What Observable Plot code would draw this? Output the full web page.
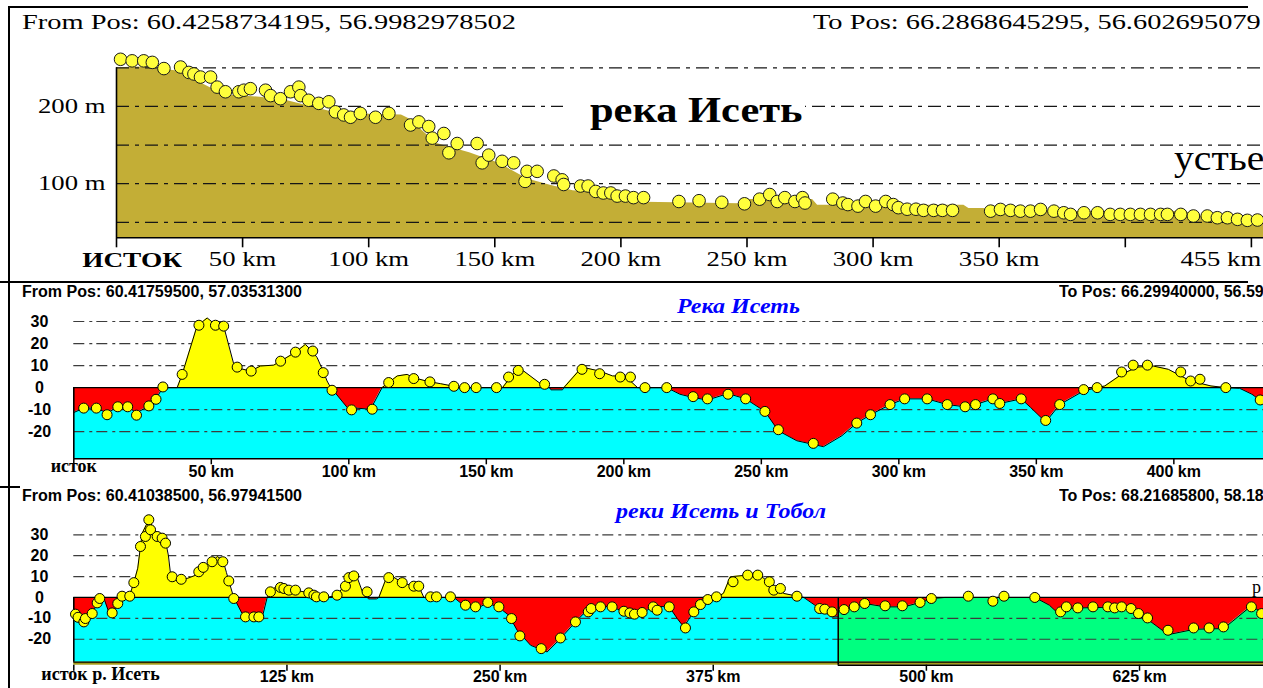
<!DOCTYPE html>
<html lang="ru">
<head>
<meta charset="utf-8">
<title>Профили реки Исеть</title>
<script src="https://cdn.jsdelivr.net/npm/d3@7"></script>
<script src="https://cdn.jsdelivr.net/npm/@observablehq/plot@0.6"></script>
<style>
  html, body { margin: 0; padding: 0; background: #fff; overflow: hidden; }
  #sheet { position: relative; width: 1263px; height: 688px; overflow: hidden; background: #fff; }
  #sheet svg { position: absolute; left: 0; }
  .lbl { position: absolute; white-space: nowrap; line-height: 1; transform-origin: 0 0; color: #000; }
  .serif { font-family: "Liberation Serif", "Times New Roman", serif; }
  .serif.bold { font-weight: bold; }
  .sans { font-family: "Liberation Sans", Arial, sans-serif; font-weight: bold; }
  .blue { font-family: "Liberation Serif", "Times New Roman", serif; font-weight: bold; font-style: italic; color: #0000ff; }
  .rule { position: absolute; background: #000; }
  .pad { position: absolute; background: #fff; }
</style>
</head>
<body>
<div id="sheet"></div>
<script>
// ================= data =================

// Profile 1 — река Исеть, absolute elevation: [km from source, metres]
const p1Ticks = [0, 50, 100, 150, 200, 250, 300, 350, 400, 450];
const p1TickLabels = ["ИСТОК", "50 km", "100 km", "150 km", "200 km", "250 km", "300 km", "350 km", "", "455 km"];
const p1Grid = [50, 100, 150, 200, 250];
const p1AxisValues = [100, 200];
const p1AxisLabels = ["100 m", "200 m"];
const p1Bed = [
  [0,250],[10,251],[16,249],[24,246],[38,223],[45,214.5],[57,212],[67,208],[77,200],[88,191],
  [113,189],[116,184],[127,152],[140,140],[152,126],[163,106],[172,98],[181,91],[192,88],[209,76],
  [247,74],[248,79.5],[276,79.5],[278,72],[336,72],[338,68],[344,68],[347,64],[424,64],
  [428,58],[454.8,56]
];
const p1Gauges = [
  [1.6,261],[6.2,259],[10.8,259],[14.2,257],[18.8,249],[25.4,251],[28.7,244],[30.7,242],[33.3,238],[37.3,238],
  [39.9,225],[43.2,219],[48.5,219],[50.5,221],[53.1,223],[59.1,221],[61.1,214],[65,210],[69,219],[72.3,225],
  [73,214],[76.2,208],[80.2,204],[84.2,206],[86.8,193],[90.1,189],[92.8,186],[96.7,191],[102.7,186],[108,191],
  [116.6,176],[119.9,180],[123.8,174],[125.2,159],[129.8,165],[131.8,140],[135.1,152],[143,152],[145,127],[147.6,137],
  [152.9,129],[157.5,127],[162,103],[162.8,116],[166.8,116],[173.4,110],[176.7,105],[177.3,99],[184,97],[187,97],
  [190,90],[193,88],[196,88],[198.5,84],[201.8,84],[205,82],[209,82],[223,77],[231,78],[240,76],
  [249,74],[255,80],[259,86],[262,77],[265,82],[269,77],[272,82],[273,75],[284,80],[288,75],
  [290,73],[294,71],[297,77],[301,71],[305,77],[308,73],[310,69],[313.5,67],[317,67],[320,65.5],
  [324,65.5],[327.5,65.5],[331.5,65.5],[346.6,64.5],[350.5,66.7],[354.5,65.5],[358.4,64.5],[362.4,64.5],[366.4,66.7],[371.7,64.5],
  [375.6,62.4],[378.3,60.3],[383.6,62.4],[389,62.4],[394,60.3],[398,60.3],[402,60.3],[406,60.3],[410,60.3],[414,60.3],
  [416.7,60.3],[422,60.3],[427,58.2],[432.5,58.2],[436.5,56],[440.5,56],[444.5,53.9],[448.4,52.6],[452.4,53]
];

// Profile 2 — Река Исеть, deviation from the mean slope: [km, m]
const p2Ticks = [0, 50, 100, 150, 200, 250, 300, 350, 400];
const p2TickLabels = ["исток", "50 km", "100 km", "150 km", "200 km", "250 km", "300 km", "350 km", "400 km"];
const p2Grid = [30, 20, 10, -10, -20];
const p2AxisValues = [30, 20, 10, 0, -10, -20];
const p2Profile = [
  [0,-11.3],[3.6,-9.3],[8.2,-9.3],[12.1,-11.5],[16,-8.7],[19.6,-8.7],[22.8,-11.5],[27.3,-8.3],[29.9,-5],[32.4,0],
  [37.6,0],[39.4,6],[44.8,27.9],[48.5,31.6],[51.5,28.6],[54.5,27.9],[58.2,10.5],[59.4,9],[64.2,7.5],[67.9,9.8],
  [72.7,10.2],[75.2,12],[80.6,16.1],[84.2,19.6],[86.7,16.6],[88.5,13.6],[90.9,6.8],[92.1,3],[93.4,0],[94,-0.75],
  [99.4,-9],[107.9,-9.8],[112.1,0],[114.5,2.3],[117.6,5.3],[121.2,6],[123.6,4.5],[129.1,2.7],[133.3,1.8],[138.2,0.6],
  [142,0],[155.9,0],[161.6,9.4],[170,1.5],[173,0],[173.5,-1],[177.7,-1],[178.2,0],[184.8,9.3],[191.2,7.5],
  [195.9,5.3],[200.4,5.3],[205,0],[215.6,0],[220.4,-3],[225.2,-4.5],[230.4,-5.6],[237.9,-2.7],[244.3,-5.1],[251.3,-10.8],
  [256.2,-19.6],[262.9,-24.1],[272.6,-26.8],[279.3,-21.8],[284.7,-16.1],[289.7,-12.3],[296.8,-7.7],[302.1,-5.1],[310.3,-5.1],[317.6,-7.7],
  [324.1,-8.7],[327.9,-7.7],[334.2,-5.1],[336.7,-7.2],[344.5,-5.1],[347.9,-9],[353.4,-15.6],[358.5,-7.7],[367.2,-1.5],[372.1,0],
  [374.9,0.75],[381,6],[386.6,9.3],[392.5,9.8],[398,8.3],[406.1,3],[413.5,0.75],[418.9,0],[423.9,-0.3],[428.4,-3],
  [432.6,-6.8]
];
const p2Gauges = [
  [3.6,-9.3],[8.2,-9.3],[12.1,-12.3],[16,-8.7],[19.6,-8.7],[22.8,-12.5],[27.3,-8.3],[29.9,-5.3],[32.4,0.3],[39.4,6],
  [45.5,28.3],[51.5,28.3],[54.5,27.9],[59.4,9.3],[64.5,7.5],[75.2,12],[80.6,16.1],[86.9,16.6],[90.7,6.8],[93.9,-1.2],
  [101,-10.1],[108.5,-9.8],[114.5,2.3],[123.6,4.1],[129.5,2.6],[138.2,0.6],[142.1,0],[146.3,0],[153.7,0],[158.1,4.8],
  [161.6,7.8],[171.2,1.5],[184.8,8.3],[191.2,6.3],[198.7,4.8],[202.4,4.8],[207.7,0],[215.6,0],[225.2,-4.1],[230.4,-5.1],
  [237.9,-3],[244.3,-5.1],[251.3,-10.8],[256.2,-19.1],[268.9,-25.3],[284.7,-16.1],[289.7,-12.3],[296.8,-7.7],[302.1,-5.1],[310.3,-5.1],
  [317.6,-7.7],[324.1,-8.7],[327.9,-7.7],[334.2,-5.1],[336.7,-7.2],[344.5,-5.1],[353.4,-14.9],[358.5,-7.7],[367.2,-0.9],[372.1,0],
  [381,7.1],[385.2,10.2],[390.4,10.2],[402.5,7.1],[406.1,3],[409.5,3.8],[418.9,0],[431.4,-5.6]
];

// Profile 3 — реки Исеть и Тобол: [km, m]
const p3Ticks = [0, 125, 250, 375, 500, 625];
const p3TickLabels = ["исток р. Исеть", "125 km", "250 km", "375 km", "500 km", "625 km"];
const p3Grid = [30, 20, 10, -10, -20];
const p3AxisValues = [30, 20, 10, 0, -10, -20];
const p3Confluence = 448.3;
const p3Mouth = { km: 691, m: 5, text: "р" };
const p3Iset = [
  [0,-8],[2,-10],[5.9,-13.3],[10.8,-8],[13.7,-2.6],[15.5,0],[17.5,0],[21.5,-9.3],[25.8,-3],[28.3,0],
  [32.8,1],[35.2,7.1],[37.5,14],[39.1,24.4],[40.1,30.8],[44,37.2],[48.9,30],[53.8,27],[55.5,20],[56.7,11.5],
  [63,9],[66.5,9.1],[72,10.8],[75.9,14.4],[81.1,17.1],[84.1,19.6],[87.4,18],[89.5,12],[90.9,7.9],[93.8,0],
  [98.7,-7.7],[101.7,-9.6],[110.5,-9.6],[113.4,0],[117.3,4.3],[121.2,6.7],[126.1,5],[130,3.5],[137.8,2.2],[145,0.6],
  [150,0.3],[154.4,1.1],[158,5],[162.3,11.5],[166,10],[170,1.1],[172,0],[173,-0.7],[177.5,-0.7],[178.9,0],
  [182.8,8.3],[185.7,10.7],[192.6,7.1],[199.4,5.4],[202.3,5.4],[205.3,0],[222.9,0],[229.7,-4.5],[232.7,-4.5],[236.6,-5.3],
  [242.4,-2.6],[249.3,-4.8],[255.1,-8.5],[260,-15.7],[267.9,-22.9],[277.6,-26.1],[285.4,-19.7],[294.2,-11.7],[301,-6.1],[308.9,-4.2],
  [315.7,-4.5],[322.6,-6.9],[333.3,-7.7],[339.8,-4.2],[349.2,-4.5],[353.9,-10.1],[357.7,-14.1],[363.6,-6.9],[371.4,-1.3],[377,0],
  [381,2],[385,9.9],[395,10.7],[402.8,10.3],[408.6,6.7],[416.5,1.9],[428.1,0],[436,-4.5],[444.7,-9.3],[448.3,-9.3]
];
const p3Tobol = [
  [448.3,-5],[451.7,-5.8],[457.9,-5],[463.9,-2.9],[475.9,-4.5],[486.8,-4.5],[496.4,-2.4],[503.6,-0.5],[510.8,0],[563.7,0],
  [572.1,-3.7],[578.8,-8.8],[582.9,-5.3],[590.1,-5],[606,-4.7],[621.4,-5.6],[628.6,-9.8],[641.8,-17.8],[657.4,-15.2],[674.3,-14.9],
  [681.5,-10.1],[690.6,-4],[697.7,-7.7]
];
const p3Gauges = [
  [1,-8],[2.5,-9.5],[5.9,-11.7],[6.8,-10.1],[10.8,-7.7],[13.7,-2.6],[15.2,-0.5],[22.5,-7.4],[25.8,-2.9],[28.3,0.6],
  [32.8,0.6],[35.2,7.1],[39.1,24.4],[42,29.2],[44,37.2],[45,32.4],[48.9,29.2],[51.8,28.4],[53.8,26],[57.7,9.9],
  [63,8.7],[73.3,12.3],[75.9,14.4],[81.1,17.1],[87.4,17.1],[90.9,7.9],[93.8,-0.5],[100.7,-9.3],[105.6,-9.3],[108.5,-9.3],
  [115.3,2.7],[121.2,4.8],[123.2,4.3],[126.1,3.5],[130,3.5],[137.8,2.2],[140.8,1.1],[142.3,0.3],[146.6,0.3],[154.4,1.1],
  [159.3,5.4],[161.3,9.5],[164.2,10.3],[172,2.7],[184.7,9.5],[192.6,7.1],[199.4,5.4],[202.3,5.4],[209.2,0.3],[212.7,0.3],
  [220.9,0.3],[229.7,-3.7],[235.6,-4.5],[242.8,-2.4],[249.3,-4.5],[256.7,-10.1],[261.6,-18.4],[274.1,-24.5],[285.4,-19.4],[294.2,-11.7],
  [301.7,-6.9],[303.4,-5.3],[308.9,-4.5],[315.7,-4.5],[322.6,-6.6],[326.1,-7.4],[328.8,-8],[333.3,-7.2],[339.8,-4.5],[342.1,-6.1],
  [349.2,-4.5],[358.7,-14.6],[363.6,-6.9],[367.5,-3.4],[371.8,-1],[376.9,0.3],[386.6,7.5],[395.2,10.7],[401.1,10.7],[407.9,7.5],
  [410.5,3.5],[414.4,4.3],[424.1,0.6],[437.4,-5.3],[440.4,-5.6],[444.7,-6.9],[451.7,-5.8],[457.7,-4.5],[463.8,-2.9],[475.8,-4],
  [485.9,-4],[496.3,-2.4],[502.9,-0.5],[524.6,0.6],[539,-1.8],[545.5,0.6],[563.6,0],[578.7,-6.9],[582.1,-4.5],[588.8,-5],
  [597.7,-4.5],[606.4,-4.5],[610.4,-5],[614.5,-4.5],[620,-5.3],[624.4,-7.7],[629.7,-9.8],[641.7,-15.7],[656.7,-14.6],[665.8,-14.6],
  [674.2,-14.1],[690.6,-4.5],[696.6,-7.7]
];

// ================= drawing =================
const SERIF = '"Liberation Serif", "Times New Roman", serif';
const SANS = '"Liberation Sans", Arial, sans-serif';
const CYAN = "#00ffff", RED = "#ff0000", YELLOW = "#ffff00", GREEN = "#00ff80", OLIVE = "#c3ae36";
const sheet = document.getElementById("sheet");
const km = d => d[0], val = d => d[1];
const below = d => Math.min(d[1], 0), above = d => Math.max(d[1], 0);
const rows = (ticks, labels) => ticks.map((k, i) => ({ km: k, label: labels[i] }));

function mount(svg, top) {
  svg.style.top = top + "px";
  sheet.appendChild(svg);
  return svg;
}

// horizontal stretch of svg text about its anchor point
function stretch(t, k) {
  let tr = t.getAttribute("transform");
  if (!tr) {
    tr = `translate(${t.getAttribute("x") || 0},${t.getAttribute("y") || 0})`;
    t.removeAttribute("x"); t.removeAttribute("y");
  }
  t.setAttribute("transform", `${tr} scale(${k},1)`);
}
function fitSvgText(svg, ref, width, pick) {
  const all = [...svg.querySelectorAll("text")];
  const r = all.find(t => t.textContent === ref);
  if (!r) return;
  const k = width / r.getComputedTextLength();
  all.filter(t => pick(t.textContent)).forEach(t => stretch(t, k));
}

// white backing behind a caption
function pad(l, t, w, h) {
  const d = document.createElement("div");
  d.className = "pad";
  Object.assign(d.style, { left: l + "px", top: t + "px", width: w + "px", height: h + "px" });
  sheet.appendChild(d);
}

// free text placed by its baseline; returns the horizontal stretch used
function caption(text, cls, size, left, baseline, width, k) {
  const el = document.createElement("div");
  el.className = "lbl " + cls;
  el.textContent = text;
  el.style.fontSize = size + "px";
  el.style.left = left + "px";
  const asc = cls.includes("sans") ? 0.8465 : 0.8375;
  el.style.top = (baseline - asc * size) + "px";
  sheet.appendChild(el);
  const s = k ?? width / el.getBoundingClientRect().width;
  el.style.transform = `scaleX(${s})`;
  return s;
}

// ---------- panel 1 ----------
const Y1 = [30, 250], X1 = [0, 454.8], px1 = 170 / 220;
const r1 = rows(p1Ticks, p1TickLabels);
const svg1 = mount(Plot.plot({
  width: 1263, height: 282,
  marginLeft: 116, marginRight: 0, marginTop: 67.3, marginBottom: 44.7,
  x: { domain: X1, axis: null },
  y: { domain: Y1, axis: null },
  style: { fontFamily: SERIF, fontSize: "20px", background: "transparent", overflow: "visible", color: "#000" },
  marks: [
    Plot.areaY(p1Bed, { x: km, y1: Y1[0], y2: val, fill: OLIVE }),
    Plot.ruleY(p1Grid, { stroke: "#161616", strokeWidth: 1.3, strokeDasharray: "13,6,4,6" }),
    Plot.ruleX([0], { y1: Y1[0], y2: Y1[1], stroke: "#000", strokeWidth: 1.6 }),
    Plot.ruleY([Y1[0]], { stroke: "#000", strokeWidth: 1.6 }),
    Plot.ruleX(p1Ticks, { y1: Y1[0], y2: Y1[0] - 10 / px1, stroke: "#000", strokeWidth: 1.6 }),
    Plot.text(p1AxisValues, { y: d => d, text: (d, i) => p1AxisLabels[i], frameAnchor: "left", dx: -11, textAnchor: "end", fontSize: 20 }),
    Plot.text(r1.slice(1, -1).filter(d => d.label), { x: "km", text: "label", frameAnchor: "bottom", dy: 28.3, fontSize: 20 }),
    Plot.text(r1.slice(0, 1), { x: "km", text: "label", frameAnchor: "bottom", dy: 28.7, dx: 15.6, fontSize: 22, fontWeight: "bold" }),
    Plot.text(r1.slice(-1), { x: "km", text: "label", frameAnchor: "bottom", dy: 28.3, dx: -71, textAnchor: "start", fontSize: 20 }),
    Plot.dot(p1Gauges, { x: km, y: val, r: 6.3, fill: "#ffff3c", stroke: "#1a1a1a", strokeWidth: 1 })
  ]
}), 0);
fitSvgText(svg1, "50 km", 67.5, t => t !== "ИСТОК");
fitSvgText(svg1, "ИСТОК", 100, t => t === "ИСТОК");

// ---------- panel 2 ----------
const Y2 = [-32.3, 30], X2 = [0, 432.6], px2 = 137.3 / 62.3;
const r2 = rows(p2Ticks, p2TickLabels);
mount(Plot.plot({
  width: 1263, height: 205,
  marginLeft: 73.3, marginRight: 0, marginTop: 39, marginBottom: 28.7,
  x: { domain: X2, axis: null },
  y: { domain: Y2, axis: null },
  style: { fontFamily: SANS, fontSize: "16px", background: "transparent", overflow: "visible", color: "#000" },
  marks: [
    Plot.areaY(p2Profile, { x: km, y1: Y2[0], y2: below, fill: CYAN }),
    Plot.ruleY(p2Grid, { stroke: "#3c3c3c", strokeWidth: 1.2, strokeDasharray: "11,5,3,4" }),
    Plot.areaY(p2Profile, { x: km, y1: 0, y2: below, fill: RED }),
    Plot.areaY(p2Profile, { x: km, y1: 0, y2: above, fill: YELLOW }),
    Plot.line(p2Profile, { x: km, y: val, stroke: "#000", strokeWidth: 1 }),
    Plot.ruleY([0], { stroke: "#000", strokeWidth: 1.3 }),
    Plot.ruleY([Y2[0]], { stroke: "#000", strokeWidth: 1.6 }),
    Plot.ruleX([0], { y1: Y2[0], y2: 0, stroke: "#000", strokeWidth: 1.6 }),
    Plot.ruleX(p2Ticks, { y1: Y2[0], y2: Y2[0] - 6 / px2, stroke: "#000", strokeWidth: 1.5 }),
    Plot.text(p2AxisValues, { y: d => d, text: d => String(d), frameAnchor: "left", dx: -34.3, textAnchor: "middle", fontWeight: "bold", fontSize: 16 }),
    Plot.text(r2.slice(1), { x: "km", text: "label", frameAnchor: "bottom", dy: 18.3, fontWeight: "bold", fontSize: 16 }),
    Plot.text(r2.slice(0, 1), { x: "km", text: "label", frameAnchor: "bottom", dy: 12.7, fontFamily: SERIF, fontWeight: "bold", fontSize: 18 }),
    Plot.dot(p2Gauges, { x: km, y: val, r: 5, fill: YELLOW, stroke: "#000", strokeWidth: 1 })
  ]
}), 282);

// ---------- panel 3 ----------
const Y3 = [-31, 30], X3 = [0, 697.7], px3 = 127.4 / 61;
const band = Y3[0] - 3 / px3;
const r3 = rows(p3Ticks, p3TickLabels);
mount(Plot.plot({
  width: 1263, height: 201,
  marginLeft: 73.3, marginRight: 0, marginTop: 47.3, marginBottom: 26.3,
  x: { domain: X3, axis: null },
  y: { domain: Y3, axis: null },
  style: { fontFamily: SANS, fontSize: "16px", background: "transparent", overflow: "visible", color: "#000" },
  marks: [
    Plot.areaY(p3Iset, { x: km, y1: Y3[0], y2: below, fill: CYAN }),
    Plot.areaY(p3Tobol, { x: km, y1: Y3[0], y2: below, fill: GREEN }),
    Plot.ruleY(p3Grid, { stroke: "#3c3c3c", strokeWidth: 1.2, strokeDasharray: "11,5,3,4" }),
    Plot.areaY(p3Iset, { x: km, y1: 0, y2: below, fill: RED }),
    Plot.areaY(p3Tobol, { x: km, y1: 0, y2: below, fill: RED }),
    Plot.areaY(p3Iset, { x: km, y1: 0, y2: above, fill: YELLOW }),
    Plot.areaY(p3Tobol, { x: km, y1: 0, y2: above, fill: YELLOW }),
    Plot.line(p3Iset, { x: km, y: val, stroke: "#000", strokeWidth: 1 }),
    Plot.line(p3Tobol, { x: km, y: val, stroke: "#000", strokeWidth: 1 }),
    Plot.ruleY([0], { stroke: "#000", strokeWidth: 1.3 }),
    Plot.rect([0], { x1: X3[0], x2: X3[1], y1: Y3[0], y2: band, fill: "#a39a16" }),
    Plot.ruleY([Y3[0]], { stroke: "#000", strokeWidth: 1.3 }),
    Plot.ruleY([band], { x1: p3Confluence, x2: X3[1], stroke: "#000", strokeWidth: 1.6 }),
    Plot.ruleX([0], { y1: Y3[0], y2: 0, stroke: "#000", strokeWidth: 1.6 }),
    Plot.ruleX([p3Confluence], { y1: band, y2: 0, stroke: "#000", strokeWidth: 1.6 }),
    Plot.ruleX(p3Ticks, { y1: band, y2: band - 6 / px3, stroke: "#000", strokeWidth: 1.5 }),
    Plot.text(p3AxisValues, { y: d => d, text: d => String(d), frameAnchor: "left", dx: -34.3, textAnchor: "middle", fontWeight: "bold", fontSize: 16 }),
    Plot.text(r3.slice(1), { x: "km", text: "label", frameAnchor: "bottom", dy: 19.9, fontWeight: "bold", fontSize: 16 }),
    Plot.text(r3.slice(0, 1), { x: "km", text: "label", frameAnchor: "bottom", dy: 17.5, dx: 26.7, fontFamily: SERIF, fontWeight: "bold", fontSize: 18 }),
    Plot.text([p3Mouth], { x: "km", y: "m", text: "text", textAnchor: "start", fontFamily: SERIF, fontSize: 18 }),
    Plot.dot(p3Gauges, { x: km, y: val, r: 5, fill: YELLOW, stroke: "#000", strokeWidth: 1 })
  ]
}), 487);

// ---------- headers and titles ----------
const k1 = caption("From Pos: 60.4258734195, 56.9982978502", "serif", 22, 22.4, 29.5, 494);
caption("To Pos: 66.2868645295, 56.602695079", "serif", 22, 812.7, 29.5, 0, k1);
pad(563, 94, 242, 36);
caption("река Исеть", "serif bold", 35, 590, 122, 212.5);
caption("устье", "serif", 36, 1173.6, 170, 0, 1.1);

const k2 = caption("From Pos: 60.41759500, 57.03531300", "sans", 16, 22.4, 297.3, 280);
caption("To Pos: 66.29940000, 56.59", "sans", 16, 1058.8, 297.3, 0, k2);
caption("Река Исеть", "blue", 22, 677.4, 313, 123);

const k3 = caption("From Pos: 60.41038500, 56.97941500", "sans", 16, 22.4, 502, 280);
caption("To Pos: 68.21685800, 58.18", "sans", 16, 1058.8, 502, 0, k3);
caption("реки Исеть и Тобол", "blue", 22, 616, 518.3, 210);

// ---------- sheet frame ----------
[[8, 6, 1240, 2], [8, 6, 2, 682], [0, 281, 1248, 2], [0, 486, 20, 2]].forEach(([l, t, w, h]) => {
  const d = document.createElement("div");
  d.className = "rule";
  Object.assign(d.style, { left: l + "px", top: t + "px", width: w + "px", height: h + "px" });
  sheet.appendChild(d);
});
</script>
</body>
</html>
